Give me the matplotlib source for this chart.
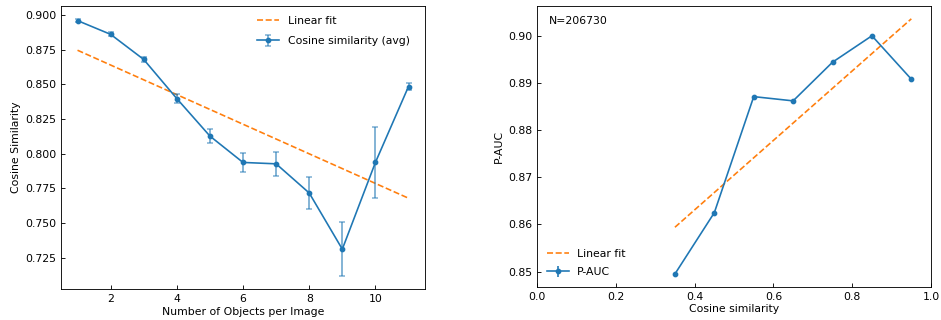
import numpy as np
import matplotlib
matplotlib.use("Agg")
import matplotlib.pyplot as plt

# left panel: cosine similarity vs number of objects
n_objects = [1, 2, 3, 4, 5, 6, 7, 8, 9, 10, 11]
cos_avg = [0.8959, 0.8860, 0.8679, 0.8397, 0.8127, 0.7937, 0.7927, 0.7717, 0.7312, 0.7937, 0.8484]
cos_err = [0.0012, 0.0014, 0.0017, 0.0034, 0.0048, 0.0070, 0.0088, 0.0112, 0.0194, 0.0254, 0.0024]

# right panel: P-AUC vs cosine similarity bin
cos_bins = [0.35, 0.45, 0.55, 0.65, 0.75, 0.85, 0.95]
pauc = [0.8495, 0.8625, 0.8871, 0.8862, 0.8944, 0.9000, 0.8908]
pauc_err = [0, 0, 0, 0, 0, 0, 0]
n_total = 206730

s = 0.784  # figure was drawn larger and scaled down
plt.rcParams.update({
    "font.size": 10 * s,
    "axes.linewidth": 0.8 * s,
    "xtick.major.width": 0.8 * s,
    "ytick.major.width": 0.8 * s,
    "xtick.major.size": 3.5 * s,
    "ytick.major.size": 3.5 * s,
    "xtick.direction": "in",
    "ytick.direction": "in",
})

fig = plt.figure(figsize=(9.41, 3.2), dpi=100)
ax1 = fig.add_axes([0.0648, 0.097, 0.3869, 0.884])
ax2 = fig.add_axes([0.5707, 0.104, 0.4187, 0.877])

# left
x1 = np.array(n_objects)
p1 = np.polyfit(x1, cos_avg, 1)
ax1.plot(x1, np.polyval(p1, x1), "--", color="C1", lw=1.5 * s, label="Linear fit")
eb = ax1.errorbar(x1, cos_avg, yerr=cos_err, fmt="o-", color="C0", ms=4 * s, lw=1.5 * s,
                  capsize=3 * s, elinewidth=1.8 * s, capthick=1.5 * s,
                  label="Cosine similarity (avg)")
for b in eb[2]:
    b.set_alpha(0.55)
for c in eb[1]:
    c.set_alpha(0.55)
ax1.set_xlabel("Number of Objects per Image", labelpad=2)
ax1.set_ylabel("Cosine Similarity", labelpad=3)
ax1.legend(loc="upper right", frameon=False, labelspacing=0.95,
           bbox_to_anchor=(0.985, 1.0))

# right
x2 = np.array(cos_bins)
p2 = np.polyfit(x2, pauc, 1)
ax2.plot(x2, np.polyval(p2, x2), "--", color="C1", lw=1.5 * s, label="Linear fit")
ax2.errorbar(x2, pauc, yerr=pauc_err, fmt="o-", color="C0", ms=4 * s, lw=1.5 * s,
             capsize=0, label="P-AUC")
ax2.set_xlim(0, 1)
ax2.set_xlabel("Cosine similarity", labelpad=2)
ax2.set_ylabel("P-AUC", labelpad=3)
ax2.text(0.03, 0.946, f"N={n_total}", transform=ax2.transAxes, va="center", ha="left")
ax2.legend(loc="lower left", frameon=False, labelspacing=0.75)

fig.savefig("out.png", dpi=100)
